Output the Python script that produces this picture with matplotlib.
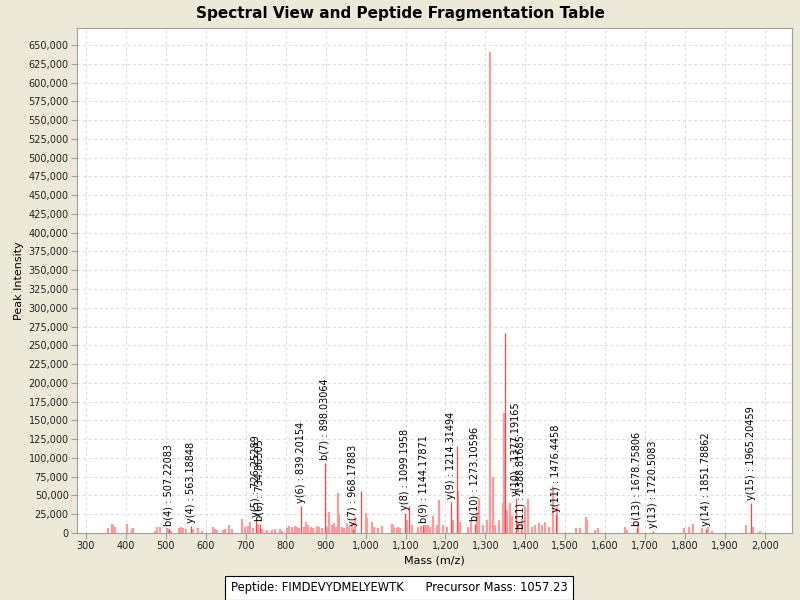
import matplotlib
matplotlib.use("Agg")
import matplotlib.pyplot as plt
from matplotlib.ticker import FuncFormatter, MultipleLocator

# unannotated / background peaks (light)
pink_mz = [356, 364, 368, 372.6, 402, 414, 418, 473, 478, 485, 503.5, 508.6, 514,
           532, 538, 544, 550, 568, 581, 589.7, 618.8, 623, 629, 642, 648, 659,
           664.8, 691.4, 698, 706.6, 710.6, 719, 731.5, 740, 752, 765, 773, 786, 790,
           802.5, 809, 815, 823, 829, 834, 846, 851, 856, 862.6, 869, 877.6, 884, 890,
           904, 909, 915, 921, 926, 930, 934, 941, 947, 953, 959, 965, 973,
           1001, 1004, 1015, 1021, 1032, 1040, 1065, 1069, 1071, 1078, 1082, 1086,
           1103, 1115, 1132, 1138, 1149, 1153, 1157, 1161, 1168, 1170, 1178, 1185,
           1195, 1203, 1220, 1232, 1236, 1257, 1264, 1278, 1285, 1295, 1303,
           1311.5, 1318, 1324, 1335, 1343, 1347, 1353, 1362, 1367, 1382, 1391, 1399,
           1407, 1416, 1424, 1433, 1441, 1449, 1458, 1470, 1478, 1528, 1537, 1552,
           1555, 1574, 1582, 1649, 1654, 1683, 1798, 1810, 1819, 1842, 1858, 1867,
           1953, 1971, 1988]
pink_int = [6000, 11600, 10700, 8400, 12000, 5000, 7000, 3000, 7500, 7500, 6000, 5000, 3000,
            6000, 8000, 7000, 5000, 5800, 6700, 2000, 8400, 5000, 4000, 4000, 5000, 10000,
            5000, 19000, 8000, 9000, 14000, 6000, 12000, 5000, 4000, 4000, 5000, 5000, 3000,
            6200, 9800, 8400, 9300, 8400, 6200, 8400, 14000, 10700, 8400, 7000, 9800, 8400, 7000,
            8400, 28000, 10700, 12900, 8400, 53000, 24000, 8400, 6200, 12900, 8400, 12900, 21000,
            27000, 19500, 15000, 7500, 6200, 9300, 11500, 10700, 7000, 6200, 8000, 6200,
            17000, 10700, 8400, 9800, 10700, 10700, 10700, 8400, 22000, 12900, 10700, 44000,
            10700, 8400, 17300, 56000, 15000, 8400, 17000, 27000, 45000, 10700, 17000,
            640000, 75000, 10700, 17000, 40000, 160000, 30000, 40000, 22000, 15000, 19500, 35000,
            45000, 8400, 10700, 13000, 10700, 15000, 8400, 62000, 35000, 6000, 6000, 21000,
            17000, 4000, 6200, 8400, 4000, 13800, 6200, 7500, 12000, 6200, 7500, 3000,
            10700, 7500, 2700]

# stronger peaks
red_mz = [507.22, 563.19, 726.25, 734.87, 839.2, 898.03, 968.18, 988, 1099.2, 1109,
          1144.18, 1214.31, 1228, 1273.11, 1350, 1377.19, 1388.82, 1476.45, 1678.76,
          1720.51, 1851.79, 1965.2]
red_int = [5000, 9000, 18000, 12000, 36000, 93000, 5000, 56000, 27000, 36000,
           10000, 41000, 116000, 12000, 267000, 46000, 2000, 24000, 6000,
           3000, 5000, 40000]

# fragment ion annotations
ion_labels = ["b(4) : 507.22083", "y(4) : 563.18848", "y(5) : 726.25289", "b(6) : 734.86505",
              "y(6) : 839.20154", "b(7) : 898.03064", "y(7) : 968.17883", "y(8) : 1099.1958",
              "b(9) : 1144.17871", "y(9) : 1214.31494", "b(10) : 1273.10596",
              "y(10) : 1377.19165", "b(11) : 1388.81685", "y(11) : 1476.4458",
              "b(13) : 1678.75806", "y(13) : 1720.5083", "y(14) : 1851.78862",
              "y(15) : 1965.20459"]
ion_mz = [507.22, 563.19, 726.25, 734.87, 839.2, 898.03, 968.18, 1099.2, 1144.18, 1214.31,
          1273.11, 1377.19, 1388.82, 1476.45, 1678.76, 1720.51, 1851.79, 1965.2]
ion_int = [5000, 9000, 18000, 12000, 36000, 93000, 5000, 27000, 10000, 41000,
           12000, 46000, 2000, 24000, 6000, 3000, 5000, 40000]

peptide = "FIMDEVYDMELYEWTK"
precursor_mass = 1057.23

bg = "#ECE9D8"
fig = plt.figure(figsize=(8, 6), dpi=100, facecolor=bg)
ax = fig.add_axes([0.09625, 0.1117, 0.89375, 0.8416])
ax.set_facecolor("white")

ax.vlines(pink_mz, 0, pink_int, colors="#ff9a9a", linewidth=1.6)
ax.vlines(red_mz, 0, red_int, colors="#ff4444", linewidth=0.9)

for lab, mz, it in zip(ion_labels, ion_mz, ion_int):
    ax.annotate(lab, (mz, it), xytext=(0, 2), textcoords="offset points",
                rotation=90, ha="center", va="bottom", fontsize=7, color="black")

ax.set_xlim(277.5, 2067.6)
ax.set_ylim(0, 672600)
ax.xaxis.set_major_locator(MultipleLocator(100))
ax.yaxis.set_major_locator(MultipleLocator(25000))
ax.xaxis.set_major_formatter(FuncFormatter(lambda v, p: f"{v:,.0f}"))
ax.yaxis.set_major_formatter(FuncFormatter(lambda v, p: f"{v:,.0f}"))
ax.grid(True, color="#dcdcdc", linestyle=(0, (2.5, 2.5)), linewidth=0.8)
ax.set_axisbelow(True)
for s in ax.spines.values():
    s.set_color("#a0a0a0")
ax.tick_params(labelsize=7, colors="#a0a0a0", labelcolor="#222222", length=4, width=0.8, pad=2)

ax.set_xlabel("Mass (m/z)", fontsize=8, labelpad=3)
ax.set_ylabel("Peak Intensity", fontsize=8, labelpad=3)
fig.text(0.5, 0.977, "Spectral View and Peptide Fragmentation Table", ha="center", va="center",
         fontsize=11, fontweight="bold")

fig.text(0.499, 0.02, f"Peptide: {peptide}      Precursor Mass: {precursor_mass}",
         ha="center", va="center", fontsize=8.3,
         bbox=dict(boxstyle="square,pad=0.5", facecolor="white", edgecolor="black", linewidth=0.8))

fig.savefig("out.png", dpi=100, facecolor=bg)
